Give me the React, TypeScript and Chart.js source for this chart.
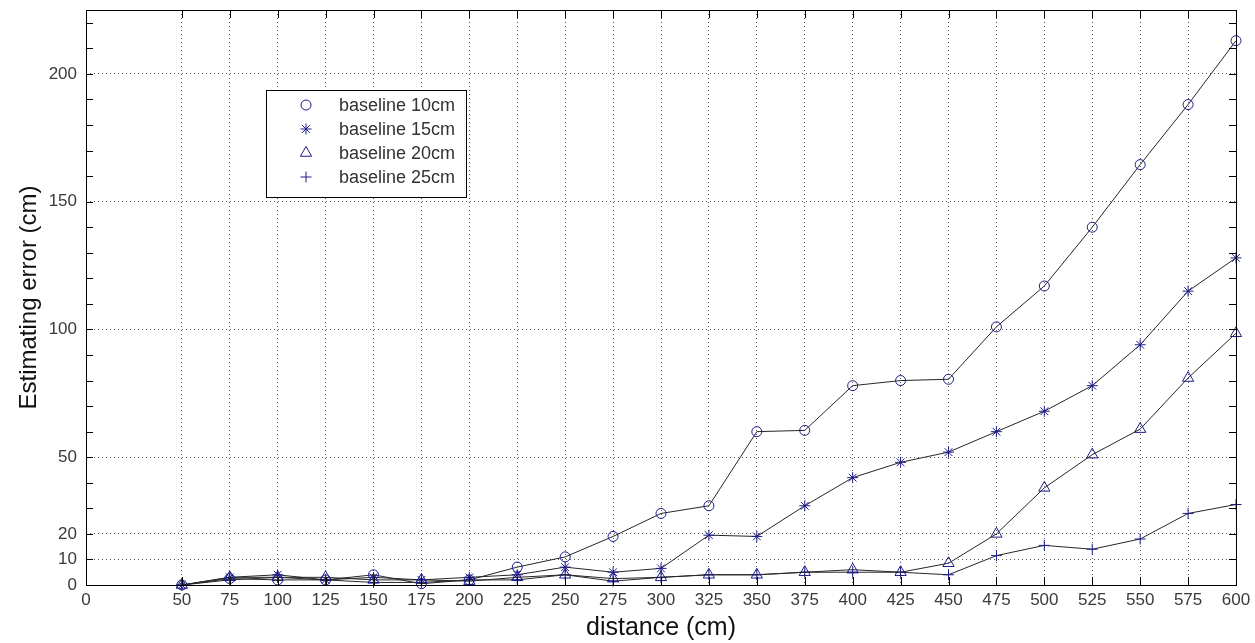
import React, { useEffect, useRef } from "react";
import { Chart, registerables } from "chart.js";
import { drawPoint } from "chart.js/helpers";

Chart.register(...registerables);

const distances = [50, 75, 100, 125, 150, 175, 200, 225, 250, 275, 300, 325, 350, 375, 400, 425, 450, 475, 500, 525, 550, 575, 600];
const baseline10 = [0, 2.5, 2, 2, 4, 0.5, 2, 7, 11, 19, 28, 31, 60, 60.5, 78, 80, 80.5, 101, 117, 140, 164.5, 188, 213];
const baseline15 = [0, 3, 4, 2, 3, 2, 3, 4, 7, 5, 6.5, 19.5, 19, 31, 42, 48, 52, 60, 68, 78, 94, 115, 128];
const baseline20 = [0, 3, 3, 3, 2, 2, 1.5, 3, 4, 2.5, 3, 4, 4, 5, 6, 5, 8.5, 20, 38, 51, 61, 81, 98.5];
const baseline25 = [0, 2, 3, 2, 1, 1, 2, 2, 4, 1.5, 3, 4, 4, 5, 5, 5, 4, 11.5, 15.5, 14, 18, 28, 31.5];

const seriesLabels = ["baseline 10cm", "baseline 15cm", "baseline 20cm", "baseline 25cm"];
const seriesMarkers = ["circle", "star", "triangle", "cross"];
const markerRadii = [5, 5.5, 6.5, 5.5];
const xTickValues = [0, 50, 75, 100, 125, 150, 175, 200, 225, 250, 275, 300, 325, 350, 375, 400, 425, 450, 475, 500, 525, 550, 575, 600];
const yTickValues = [0, 10, 20, 50, 100, 150, 200];
const yMinorStep = 10;

const MARKER = "#1c1c8a";
const LINE = "#262626";
const FONT = "'Liberation Sans', Arial, sans-serif";

const framePlugin = {
  id: "frame",
  afterDraw(chart: any) {
    const { ctx, chartArea, scales } = chart;
    const { left, right, top, bottom } = chartArea;
    ctx.save();
    ctx.strokeStyle = "#000";
    ctx.lineWidth = 1;
    ctx.setLineDash([]);
    ctx.strokeRect(Math.round(left) + 0.5, Math.round(top) + 0.5, Math.round(right - left), Math.round(bottom - top));
    ctx.beginPath();
    for (const v of xTickValues) {
      const x = Math.round(scales.x.getPixelForValue(v)) + 0.5;
      ctx.moveTo(x, bottom);
      ctx.lineTo(x, bottom - 8);
      ctx.moveTo(x, top);
      ctx.lineTo(x, top + 8);
    }
    for (let v = 0; v <= scales.y.max; v += yMinorStep) {
      const y = Math.round(scales.y.getPixelForValue(v)) + 0.5;
      ctx.moveTo(left, y);
      ctx.lineTo(left + 7, y);
      ctx.moveTo(right, y);
      ctx.lineTo(right - 7, y);
    }
    ctx.stroke();

    // legend
    const lx = left + 180;
    const ly = top + 80;
    const lw = 200;
    const lh = 107;
    ctx.fillStyle = "#fff";
    ctx.fillRect(lx, ly, lw, lh);
    ctx.strokeStyle = "#000";
    ctx.strokeRect(lx + 0.5, ly + 0.5, lw, lh);
    ctx.font = `18px ${FONT}`;
    ctx.textBaseline = "middle";
    ctx.textAlign = "left";
    seriesLabels.forEach((lab, i) => {
      const yy = ly + 15 + i * 24;
      ctx.strokeStyle = MARKER;
      ctx.fillStyle = "rgba(0,0,0,0)";
      ctx.lineWidth = 1;
      drawPoint(ctx, { pointStyle: seriesMarkers[i], radius: markerRadii[i], rotation: 0, borderWidth: 1 } as any, lx + 40, yy);
      ctx.fillStyle = "#333";
      ctx.fillText(lab, lx + 73, yy + 1);
    });
    ctx.restore();
  },
};

export default function App() {
  const ref = useRef<HTMLCanvasElement | null>(null);

  useEffect(() => {
    if (!ref.current) return;
    const all = [baseline10, baseline15, baseline20, baseline25];
    const chart = new Chart(ref.current, {
      type: "line",
      data: {
        datasets: all.map((vals, i) => ({
          label: seriesLabels[i],
          data: distances.map((d, j) => ({ x: d, y: vals[j] })),
          borderColor: LINE,
          borderWidth: 1,
          pointStyle: seriesMarkers[i] as any,
          pointRadius: markerRadii[i],
          pointBorderColor: MARKER,
          pointBackgroundColor: "rgba(0,0,0,0)",
          pointBorderWidth: 1,
          fill: false,
          tension: 0,
          clip: false as any,
        })),
      },
      options: {
        responsive: false,
        animation: false,
        layout: { padding: { left: 0, top: 10, right: 19, bottom: 0 } },
        plugins: { legend: { display: false }, tooltip: { enabled: false } },
        scales: {
          x: {
            type: "linear",
            min: 0,
            max: 600,
            afterBuildTicks: (axis: any) => {
              axis.ticks = xTickValues.map((v) => ({ value: v }));
            },
            afterFit: (axis: any) => {
              axis.height = 58;
              axis.paddingLeft = 0;
              axis.paddingRight = 0;
            },
            ticks: {
              autoSkip: false,
              maxRotation: 0,
              padding: 5,
              color: "#3a3a3a",
              font: { family: FONT, size: 17 },
              callback: (v: any) => String(v),
            },
            grid: { color: "#555", lineWidth: 1, drawTicks: false },
            border: { display: false, dash: [1, 3] },
            title: {
              display: true,
              text: "distance (cm)",
              color: "#111",
              font: { family: FONT, size: 25 },
              padding: { top: 0, bottom: 0 },
            },
          },
          y: {
            type: "linear",
            min: 0,
            max: 225,
            afterBuildTicks: (axis: any) => {
              axis.ticks = yTickValues.map((v) => ({ value: v }));
            },
            afterFit: (axis: any) => {
              axis.width = 86;
              axis.paddingTop = 0;
              axis.paddingBottom = 0;
            },
            ticks: {
              autoSkip: false,
              padding: 9,
              color: "#3a3a3a",
              font: { family: FONT, size: 17 },
              callback: (v: any) => String(v),
            },
            grid: { color: "#555", lineWidth: 1, drawTicks: false },
            border: { display: false, dash: [1, 3] },
            title: {
              display: true,
              text: "Estimating error (cm)",
              color: "#111",
              font: { family: FONT, size: 24 },
              padding: { top: 15, bottom: 0 },
            },
          },
        },
      },
      plugins: [framePlugin],
    });
    return () => chart.destroy();
  }, []);

  return (
    <div style={{ position: "absolute", left: 0, top: 0, width: 1255, height: 643, background: "#fff" }}>
      <canvas ref={ref} width={1255} height={643} style={{ display: "block" }} />
    </div>
  );
}
